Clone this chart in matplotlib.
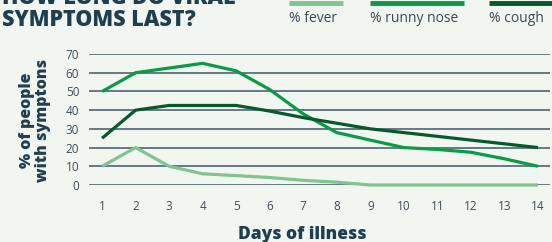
import matplotlib.pyplot as plt

days = list(range(1, 15))
fever = [10, 20, 10, 6, 5, 4, 2.5, 1.5, 0, 0, 0, 0, 0, 0]
runny_nose = [50, 60, 62.5, 65, 61, 51, 38, 28, 24, 20, 19, 17.5, 14, 10]
cough = [25, 40, 42.5, 42.5, 42.5, 39.5, 36, 33, 30, 28, 26, 24, 22, 20]

labels = ['% fever', '% runny nose', '% cough']
colors = ['#80c58f', '#0b9a47', '#07592b']

bg = '#f1f6f1'
dark = '#1f3f50'
tick_col = '#3b5060'

plt.rcParams['font.family'] = ['Open Sans', 'DejaVu Sans']

fig = plt.figure(figsize=(5.52, 2.42), dpi=100, facecolor=bg)
ax = fig.add_axes([89 / 552, 1 - 185 / 242, (550 - 89) / 552, (185 - 54) / 242])
ax.set_facecolor(bg)

# series
for vals, c in zip([fever, runny_nose, cough], colors):
    ax.plot(days, vals, color=c, lw=2.3, solid_capstyle='butt', clip_on=False, zorder=3)

ax.set_xlim(0.61, 14.36)
ax.set_ylim(0, 70)
ax.set_xticks(days)
ax.set_yticks(range(0, 80, 10))
ax.grid(axis='y', color='#3f5868', lw=1.1, zorder=1)
for s in ax.spines.values():
    s.set_visible(False)
ax.tick_params(length=0, colors=tick_col, labelsize=8.5)
ax.tick_params(axis='y', pad=7)
ax.tick_params(axis='x', pad=11)

ax.set_xlabel('Days of illness', fontsize=12.5, fontweight=800, color=dark)
ax.xaxis.set_label_coords((302 - 89) / 461, -0.31)
fig.text(35 / 552, 1 - 120 / 242, '% of people\nwith symptons', rotation=90, ha='center',
         va='center', fontsize=11.5, fontweight=800, color=dark, linespacing=1.05)

# title (top line cut off at the edge)
fig.text(2 / 552, 1 - 4 / 242, 'HOW LONG DO VIRAL', fontsize=15.5, fontweight=800,
         color=dark, va='baseline')
fig.text(2 / 552, 1 - 26 / 242, 'SYMPTOMS LAST?', fontsize=15.5, fontweight=800,
         color=dark, va='baseline')

# legend at top right
leg_x = [(289, 343), (370, 464), (489, 556)]
for (x0, x1), c, lab in zip(leg_x, colors, labels):
    fig.add_artist(plt.Line2D([x0 / 552, x1 / 552], [1 - 3 / 242] * 2, color=c, lw=3.5,
                              solid_capstyle='butt'))
    fig.text(x0 / 552, 1 - 22 / 242, lab, fontsize=10, color='#3a4a56', va='baseline')

fig.savefig('out.png', dpi=100, facecolor=bg)
